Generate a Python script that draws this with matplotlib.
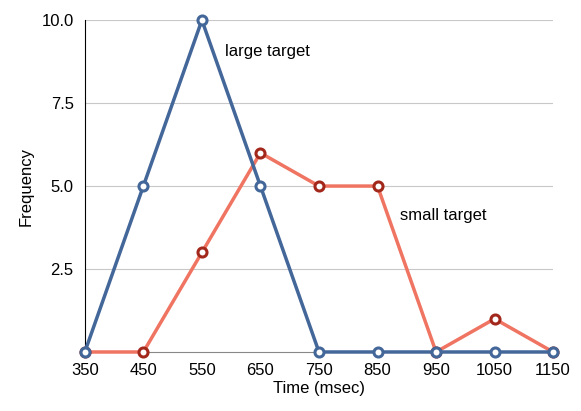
import matplotlib
matplotlib.use("Agg")
import matplotlib.pyplot as plt

plt.rcParams["font.family"] = ["Liberation Sans", "DejaVu Sans"]

times = [350, 450, 550, 650, 750, 850, 950, 1050, 1150]
large_target = [0, 5, 10, 5, 0, 0, 0, 0, 0]
small_target = [0, 0, 3, 6, 5, 5, 0, 1, 0]
yticks = [2.5, 5.0, 7.5, 10.0]

fig = plt.figure(figsize=(5.81, 4.11), dpi=100)
ax = fig.add_axes([0.146, 0.1436, 0.806, 0.8074])

ax.plot(times, small_target, color="#f07462", lw=2.5, marker="o", ms=6.5,
        mfc="white", mec="#a3281c", mew=2.2, clip_on=False, zorder=3)
ax.plot(times, large_target, color="#44679a", lw=2.5, marker="o", ms=6.5,
        mfc="white", mec="#44679a", mew=2.2, clip_on=False, zorder=4)

ax.set_xlim(350, 1150)
ax.set_ylim(0, 10)
ax.set_xticks(times)
ax.set_yticks(yticks)
ax.set_yticklabels([f"{v:.1f}" for v in yticks])
ax.grid(axis="y", color="#c8c8c8", lw=0.8)
ax.set_axisbelow(True)
for s in ("top", "right"):
    ax.spines[s].set_visible(False)
ax.spines["bottom"].set_color("#888888")
ax.tick_params(length=0, labelsize=12, pad=8)
ax.set_xlabel("Time (msec)", fontsize=12, labelpad=2)
ax.set_ylabel("Frequency", fontsize=12, labelpad=6)

ax.text(589, 9.05, "large target", fontsize=12, va="center")
ax.text(888, 4.1, "small target", fontsize=12, va="center")

fig.savefig("out.png", dpi=100)
